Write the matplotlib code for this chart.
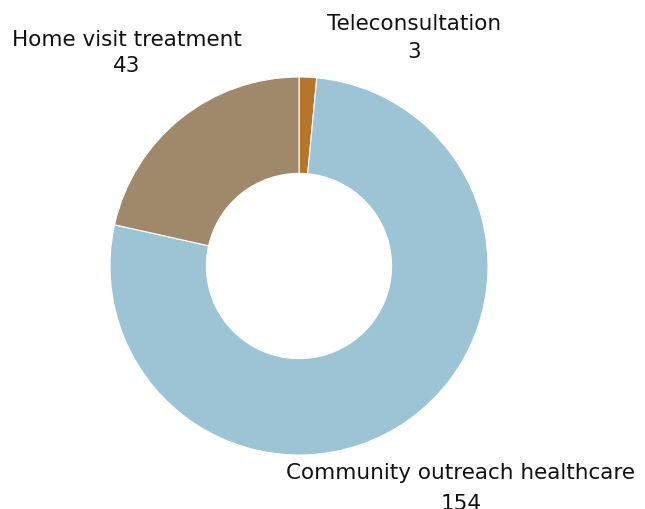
import matplotlib.pyplot as plt

labels = ["Teleconsultation", "Community outreach healthcare", "Home visit treatment"]
values = [3, 154, 43]
colors = ["#B5752A", "#9CC4D4", "#A0886A"]

plt.rcParams["font.family"] = ["DejaVu Sans"]

fig = plt.figure(figsize=(6.45, 5.09), dpi=100)
# donut centre at ~(299, 266) px, outer radius ~189 px
ax = fig.add_axes([110 / 645, 54 / 509, 378 / 645, 378 / 509])

wedges, _ = ax.pie(values, colors=colors, startangle=90, counterclock=False,
                   radius=1, wedgeprops=dict(width=0.51, edgecolor="white", linewidth=0.8))
ax.set_xlim(-1, 1)
ax.set_ylim(-1, 1)
ax.set_aspect("equal")
ax.axis("off")

# label positions (x, y for name line, y for value line) in data units
label_pos = [(0.608, 1.28, 1.132), (0.857, -1.095, -1.258), (-0.91, 1.196, 1.058)]
for lab, val, (x, y1, y2) in zip(labels, values, label_pos):
    ax.text(x, y1, lab, ha="center", va="center", fontsize=15.5, color="#111111", clip_on=False)
    ax.text(x, y2, str(val), ha="center", va="center", fontsize=15.5, color="#111111", clip_on=False)

fig.savefig("out.png", dpi=100)
